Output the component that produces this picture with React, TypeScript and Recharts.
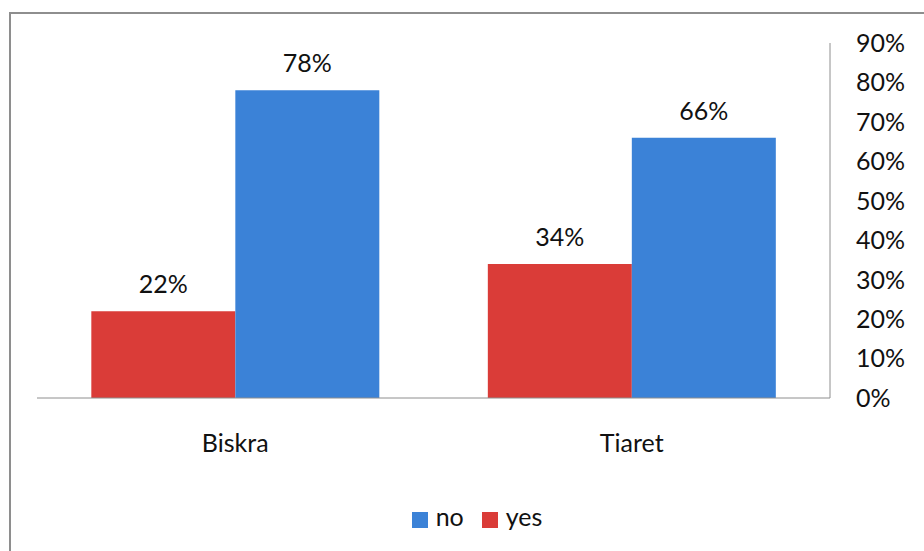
import { BarChart, Bar, XAxis, YAxis, Legend, LabelList } from "recharts";

const regions = ["Biskra", "Tiaret"];
const yesShare = [0.22, 0.34];
const noShare = [0.78, 0.66];
const yTicks = [0, 0.1, 0.2, 0.3, 0.4, 0.5, 0.6, 0.7, 0.8, 0.9];

const chartData = regions.map((name, i) => ({
  name,
  yes: yesShare[i],
  no: noShare[i],
}));

const pct = (v: number) => `${Math.round(v * 100)}%`;
const font = "Lato, 'Open Sans', sans-serif";

export default function App() {
  return (
    <div
      style={{
        position: "absolute",
        left: 0,
        top: 0,
        width: 924,
        height: 551,
        overflow: "hidden",
        background: "#fff",
        fontFamily: font,
      }}
    >
      <div
        style={{
          position: "absolute",
          left: 9,
          top: 12,
          width: 940,
          height: 560,
          borderLeft: "2px solid #8e8e8e",
          borderTop: "2px solid #8e8e8e",
        }}
      />
      <BarChart
        width={924}
        height={551}
        data={chartData}
        margin={{ top: 43, right: 14, left: 37, bottom: 93 }}
        barCategoryGap="13.7%"
        barGap={0}
        style={{ position: "absolute", left: 0, top: 0 }}
      >
        <XAxis
          dataKey="name"
          height={60}
          tickLine={false}
          axisLine={{ stroke: "#8e8e8e" }}
          tick={{ fill: "#111", fontSize: 25, fontFamily: font }}
          tickMargin={30}
        />
        <YAxis
          orientation="right"
          width={80}
          domain={[0, 0.9]}
          ticks={yTicks}
          interval={0}
          tickFormatter={pct}
          tickLine={false}
          axisLine={{ stroke: "#8e8e8e" }}
          tick={{ fill: "#111", fontSize: 25, fontFamily: font, textAnchor: "start" }}
          tickMargin={20}
        />
        <Legend
          verticalAlign="middle"
          align="center"
          iconType="square"
          iconSize={16}
          wrapperStyle={{ top: 501, left: 24, width: 924, fontSize: 25, fontFamily: font, color: "#111" }}
          formatter={(value) => (
            <span style={{ color: "#111", marginLeft: 4, marginRight: 8 }}>{value}</span>
          )}
        />
        <Bar dataKey="yes" fill="#DA3C38" isAnimationActive={false}>
          <LabelList dataKey="yes" position="top" offset={18} formatter={pct} fill="#111" fontSize={25} fontFamily={font} />
        </Bar>
        <Bar dataKey="no" fill="#3B82D7" isAnimationActive={false}>
          <LabelList dataKey="no" position="top" offset={18} formatter={pct} fill="#111" fontSize={25} fontFamily={font} />
        </Bar>
      </BarChart>
    </div>
  );
}
